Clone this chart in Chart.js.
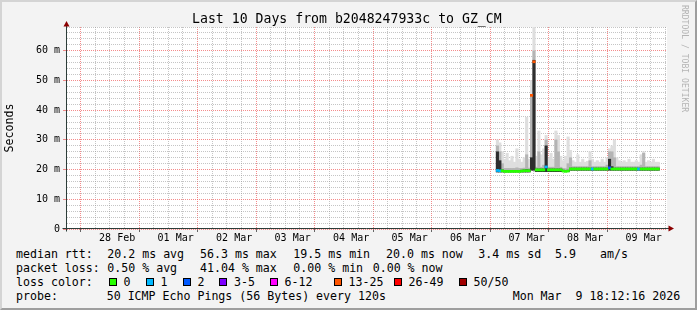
<!DOCTYPE html>
<html>
<head>
<meta charset="utf-8">
<script src="https://cdn.jsdelivr.net/npm/chart.js@4/dist/chart.umd.min.js"></script>
<style>
html,body{margin:0;padding:0;}
body{width:697px;height:310px;background:#f3f3f3;position:relative;overflow:hidden;font-family:"DejaVu Sans Mono",monospace;color:#000;}
#frame{position:absolute;left:0;top:0;width:693px;height:306px;border-top:2px solid #d4d4d4;border-left:2px solid #d4d4d4;border-right:2px solid #9e9e9e;border-bottom:2px solid #9e9e9e;pointer-events:none;}
canvas{position:absolute;left:0;top:0;}
.t{position:absolute;white-space:pre;font-size:11.6px;line-height:14px;}
#title{position:absolute;left:192px;top:11px;font-size:13.2px;line-height:16px;white-space:pre;}
#credit{position:absolute;left:680px;top:5px;font-size:8.1px;line-height:10px;writing-mode:vertical-rl;color:#b4b4b4;white-space:pre;}
.sq{position:absolute;top:278px;width:6px;height:6px;border:1px solid #000;}
</style>
</head>
<body>
<canvas id="c" width="697" height="245"></canvas>
<div id="title">Last 10 Days from b2048247933c to GZ_CM</div>
<div id="credit">RRDTOOL / TOBI OETIKER</div>
<div id="legend"></div>
<div id="frame"></div>
<script>
// ---- data (hours since 28 Feb 00:00) ----
const hours = [168,169,170,171,172,173,174,175,176,177,178,179,180,181,182,183,184,185,186,187,188,189,190,191,192,193,194,195,196,197,198,199,200,201,202,203,204,205,206,207,208,209,210,211,212,213,214,215,216,217,218,219,220,221,222,223,224,225,226,227,228,229,230,231,232,233,234];
const median = [19.7,19.6,19.6,19.4,19.4,19.4,19.4,19.4,19.4,19.4,19.5,19.6,19.6,19.6,
  45.0,56.3,
  19.9,19.9,19.9,19.9,20.9,19.9,19.9,19.9,19.9,19.9,19.9,19.5,19.4,19.5,
  20.2,20.2,20.2,20.2,20.2,20.2,20.2,20.2,20.2,20.2,20.2,20.2,20.2,20.2,20.2,20.2,
  20.6,
  20.2,20.2,20.2,20.2,20.2,20.2,20.2,20.2,20.2,20.2,20.2,20.2,20.2,20.2,20.2,20.2,20.2,20.2,20.2,20.2];
const lostPings = [1,1,0,0,0,0,0,0,0,0,0,0,0,0,
  20,15,
  0,0,0,0,1,0,0,0,0,0,0,0,0,0,
  0,0,0,0,0,0,0,0,0,1,0,0,0,0,0,0,
  2,
  0,0,0,0,0,0,0,0,0,0,0,1,0,0,0,0,0,0,0,0];
const smokeMin = [19.2,19.2,19.2,19.2,19.2,19.2,19.2,19.2,19.2,19.2,19.2,19.2,19.2,19.2,
  19.8,19.8,
  19.3,19.3,19.3,19.3,19.3,19.3,19.3,19.3,19.3,19.3,19.3,19.3,19.3,19.3,
  19.8,19.8,19.8,19.8,19.8,19.8,19.8,19.8,19.8,19.8,19.8,19.8,19.8,19.8,19.8,19.8,
  19.8,
  19.8,19.8,19.8,19.8,19.8,19.8,19.8,19.8,19.8,19.8,19.8,19.8,19.8,19.8,19.8,19.8,19.8,19.8,19.8,19.8];
const smokeDark = [26.0,23.0,19.9,19.7,19.7,19.7,19.7,19.7,19.7,19.7,19.8,19.9,20.0,19.9,
  24.0,56.8,
  20.2,20.2,20.2,20.2,28.0,20.2,20.2,20.2,20.2,20.2,20.2,19.8,19.7,19.8,
  20.5,20.5,20.5,20.5,20.5,20.5,20.5,20.5,20.5,20.5,20.5,20.5,20.5,20.5,20.5,20.5,
  23.5,
  21.0,20.5,20.5,20.5,20.5,20.5,20.5,20.5,20.5,20.5,20.5,20.5,20.5,20.5,20.5,20.5,20.5,20.5,20.5,20.5];
const smokeMid = [28.0,26.0,22.0,20.4,20.4,20.4,20.4,20.4,20.6,20.4,20.4,20.5,25.0,20.5,
  45.0,60.0,
  20.8,26.0,20.8,21.5,30.0,20.8,20.8,20.8,30.0,26.0,20.8,20.4,20.3,22.0,
  24.0,21.0,21.0,21.0,21.0,21.0,21.0,21.0,23.0,21.0,21.0,21.0,21.0,21.0,21.0,21.5,
  26.0,
  26.0,24.0,21.0,21.0,21.0,21.0,21.0,21.0,21.0,21.0,21.0,21.0,21.5,25.5,21.0,21.0,21.0,21.0,21.0,21.0];
const smokeLight = [30.0,29.0,26.0,23.5,25.5,23.0,24.5,22.5,27.0,23.5,22.5,24.0,37.6,23.5,
  50.0,68.0,
  24.5,33.0,25.0,27.0,31.5,24.0,25.5,23.5,33.0,31.5,24.5,23.0,24.5,31.0,
  26.5,23.0,22.5,25.0,22.5,23.5,22.5,22.8,26.0,23.5,22.5,23.0,22.5,23.5,22.5,24.0,
  27.0,
  28.0,30.0,24.0,23.0,22.5,23.0,22.5,23.5,22.5,22.5,23.0,22.5,25.0,26.0,22.5,23.0,22.5,23.5,22.5,22.5];

const dayLabels = ['28 Feb','01 Mar','02 Mar','03 Mar','04 Mar','05 Mar','06 Mar','07 Mar','08 Mar','09 Mar'];
const yLabels = ['0','10 m','20 m','30 m','40 m','50 m','60 m'];

const statRtt = ['20.2 ms avg','56.3 ms max','19.5 ms min','20.0 ms now','3.4 ms sd','5.9','am/s'];
const statLoss = ['0.50 % avg','41.04 % max','0.00 % min','0.00 % now'];
const lossBins = ['0','1','2','3-5','6-12','13-25','26-49','50/50'];
const lossBinMin = [0,1,2,3,6,13,26,50];
const lossBinColors = ['#26ff00','#00b8ff','#0059ff','#7e00ff','#ff00ff','#ff5500','#ff0000','#a10000'];
const probeText = '50 ICMP Echo Pings (56 Bytes) every 120s';
const stampText = 'Mon Mar  9 18:12:16 2026';

// ---- helpers ----
function lossColor(n){ let k=0; for(let i=0;i<lossBinMin.length;i++){ if(n>=lossBinMin[i]) k=i; } return lossBinColors[k]; }
const FONT = '"DejaVu Sans Mono", monospace';

// ---- HTML legend ----
const lg = document.getElementById('legend');
function txt(x,y,s){ const d=document.createElement('div'); d.className='t'; d.style.left=x+'px'; d.style.top=y+'px'; d.textContent=s; lg.appendChild(d); }
txt(16,246.5,'median rtt:');
[107.3,200,293.3,386,478.3,555,600].forEach((x,i)=>txt(x,246.5,statRtt[i]));
txt(16,260.5,'packet loss:');
[107.3,200,293.3,372.7].forEach((x,i)=>txt(x,260.5,statLoss[i]));
txt(16,274.5,'loss color:');
[108.5,145.5,182.5,219,269.5,333.5,393.5,458.5].forEach((x,i)=>{
  const s=document.createElement('div'); s.className='sq'; s.style.left=x+'px'; s.style.background=lossBinColors[i]; lg.appendChild(s);
  txt(x+15,274.5,lossBins[i]);
});
txt(16,288.5,'probe:');
txt(106.7,288.5,probeText);
txt(512.7,288.5,stampText);

// ---- chart ----
const majorGrid = 'rgba(240,100,100,0.75)';
const minorGrid = 'rgba(150,150,150,0.55)';
const xGrid = []; for(let v=0; v<=234; v+=6) xGrid.push(v);
const yGrid = []; for(let v=0; v<=68; v+=2) yGrid.push(v);

const framePlugin = {
  id:'framePlugin',
  beforeDraw(chart){
    const {ctx, chartArea:a} = chart;
    ctx.save(); ctx.fillStyle='#ffffff'; ctx.fillRect(a.left,a.top,a.right-a.left,a.bottom-a.top); ctx.restore();
  },
  afterDraw(chart){
    const {ctx, chartArea:a} = chart;
    const x0 = a.left-0.5, y0 = a.bottom-0.5;
    ctx.save();
    ctx.strokeStyle='#2c3d38'; ctx.lineWidth=1;
    ctx.beginPath(); ctx.moveTo(x0, y0+3); ctx.lineTo(x0, a.top-3); ctx.stroke();
    ctx.beginPath(); ctx.moveTo(x0-4, y0); ctx.lineTo(a.right+3, y0); ctx.stroke();
    ctx.fillStyle='#8b0000';
    ctx.beginPath(); ctx.moveTo(x0, a.top-6); ctx.lineTo(x0-3, a.top-0.5); ctx.lineTo(x0+3, a.top-0.5); ctx.closePath(); ctx.fill();
    ctx.beginPath(); ctx.moveTo(a.right+7, y0); ctx.lineTo(a.right+1.5, y0-3); ctx.lineTo(a.right+1.5, y0+3); ctx.closePath(); ctx.fill();
    ctx.restore();
  }
};

function band(lo, hi){ return hours.map((h,i)=>({x:h, y:[lo[i], hi[i]]})); }

new Chart(document.getElementById('c'), {
  type:'bar',
  data:{ datasets:[
    { label:'median', data: hours.map((h,i)=>({x:h, y:[median[i]-0.34, median[i]+0.34]})), backgroundColor: lostPings.map(lossColor), order:0 },
    { label:'smoke dark', data: band(smokeMin, smokeDark), backgroundColor:'#2e2e2e', order:1 },
    { label:'smoke mid', data: band(smokeMin, smokeMid), backgroundColor:'#b4b4b4', order:2 },
    { label:'smoke light', data: band(smokeMin, smokeLight), backgroundColor:'#dedede', order:3 }
  ]},
  options:{
    responsive:false, animation:false, events:[],
    layout:{ padding:{ top:27, right:30, left:0, bottom:0 } },
    datasets:{ bar:{ grouped:false, categoryPercentage:1, barPercentage:1, borderWidth:0 } },
    plugins:{ legend:{display:false}, tooltip:{enabled:false}, title:{display:false} },
    scales:{
      x:{
        type:'linear', min:-5.5, max:234.5,
        afterBuildTicks: s => { s.ticks = xGrid.map(v=>({value:v})); },
        afterFit: s => { s.height = 16; },
        ticks:{ autoSkip:false, maxRotation:0, minRotation:0, padding:0, color:'#000', font:{family:FONT, size:10},
          callback: v => ((v-12)%24===0 ? dayLabels[(v-12)/24] : '') },
        grid:{ lineWidth:1, tickLength:3,
          color: c => (c.tick && c.tick.value%24===0) ? majorGrid : minorGrid,
          tickColor: c => (c.tick && c.tick.value%24===0) ? '#666' : 'rgba(0,0,0,0)' },
        border:{ display:false, dash:[1,1] }
      },
      y:{
        type:'linear', min:0, max:68,
        afterBuildTicks: s => { s.ticks = yGrid.map(v=>({value:v})); },
        afterFit: s => { s.width = 67; },
        ticks:{ autoSkip:false, padding:3, color:'#000', font:{family:FONT, size:10},
          callback: v => (v%10===0 ? yLabels[v/10] : '') },
        grid:{ lineWidth:1, tickLength:4,
          color: c => (c.tick && c.tick.value%10===0) ? majorGrid : minorGrid,
          tickColor: c => (c.tick && c.tick.value%10===0) ? majorGrid : 'rgba(0,0,0,0)' },
        border:{ display:false, dash:[1,1] },
        title:{ display:true, text:'Seconds', color:'#000', font:{family:FONT, size:11.6}, padding:{top:3, bottom:0} }
      }
    }
  },
  plugins:[framePlugin]
});
</script>
</body>
</html>
